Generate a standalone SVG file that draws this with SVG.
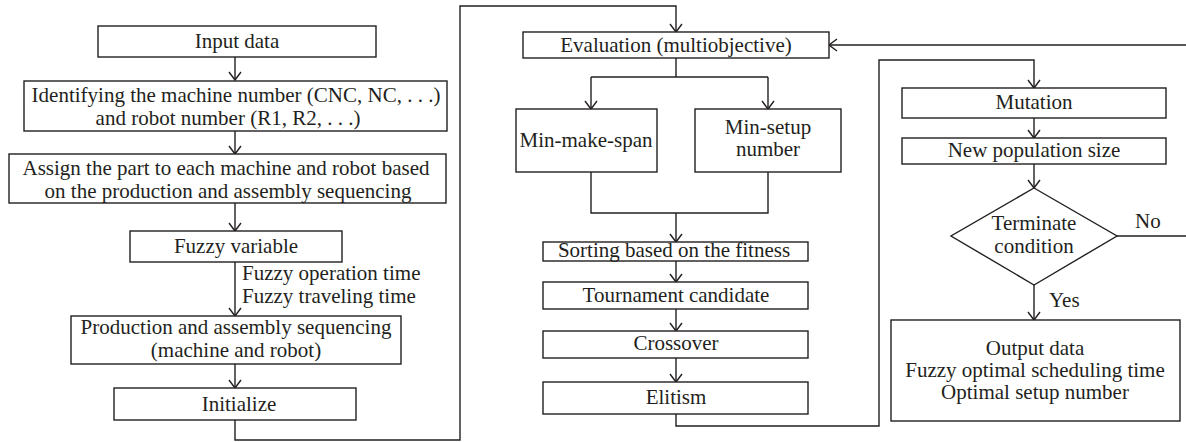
<svg xmlns="http://www.w3.org/2000/svg" width="1186" height="442" viewBox="0 0 1186 442" font-family="'Liberation Serif', 'DejaVu Serif', serif">
<style>
.box{fill:#fff;stroke:#231f20;stroke-width:1.4}
.ln{fill:none;stroke:#231f20;stroke-width:1.4}
text{font-family:'Liberation Serif','DejaVu Serif',serif;font-size:21px;fill:#231f20;text-anchor:middle}
.l{text-anchor:start}
</style>
<defs>
<marker id="ah" viewBox="-10 -7 12 14" markerWidth="12" markerHeight="14" refX="0" refY="0" orient="auto" markerUnits="userSpaceOnUse">
<path d="M-8,-6 L0,0 L-8,6" fill="none" stroke="#231f20" stroke-width="1.4"/>
</marker>
</defs>
<rect width="1186" height="442" fill="#fff"/>
<g id="connectors">
<path class="ln" d="M235,57 V80" marker-end="url(#ah)"/>
<path class="ln" d="M235,131 V154" marker-end="url(#ah)"/>
<path class="ln" d="M235,203 V231" marker-end="url(#ah)"/>
<path class="ln" d="M235,262 V316" marker-end="url(#ah)"/>
<path class="ln" d="M235,364 V388" marker-end="url(#ah)"/>
<path class="ln" d="M235,420 V440 H460 V6 H676 V32" marker-end="url(#ah)"/>
<path class="ln" d="M676,58 V77 M591,77 H768"/>
<path class="ln" d="M591,77 V109" marker-end="url(#ah)"/>
<path class="ln" d="M768,77 V109" marker-end="url(#ah)"/>
<path class="ln" d="M591,172 V213 H768 V172"/>
<path class="ln" d="M676,213 V242" marker-end="url(#ah)"/>
<path class="ln" d="M676,261 V282" marker-end="url(#ah)"/>
<path class="ln" d="M676,309 V331" marker-end="url(#ah)"/>
<path class="ln" d="M676,358 V382" marker-end="url(#ah)"/>
<path class="ln" d="M676,414 V426 H879 V60 H1034 V88" marker-end="url(#ah)"/>
<path class="ln" d="M1034,118 V138" marker-end="url(#ah)"/>
<path class="ln" d="M1034,164 V188" marker-end="url(#ah)"/>
<path class="ln" d="M1034,285 V320" marker-end="url(#ah)"/>
<path class="ln" d="M1117,236 H1192 V45 H829" marker-end="url(#ah)"/>
<text class="l" x="242" y="280" font-size="20">Fuzzy operation time</text>
<text class="l" x="242" y="303" font-size="20">Fuzzy traveling time</text>
<text class="l" x="1049" y="307">Yes</text>
<text class="l" x="1135" y="228">No</text>
</g>
<g id="input">
<rect class="box" x="98" y="26" width="278" height="31"/>
<text x="237" y="48">Input data</text>
</g>
<g id="identify">
<rect class="box" x="24" y="81" width="423" height="50"/>
<text x="236" y="102">Identifying the machine number (CNC, NC, . . .)</text>
<text x="228" y="125">and robot number (R1, R2, . . .)</text>
</g>
<g id="assign">
<rect class="box" x="9" y="154" width="437" height="49"/>
<text x="226" y="175">Assign the part to each machine and robot based</text>
<text x="228" y="198">on the production and assembly sequencing</text>
</g>
<g id="fuzzyvar">
<rect class="box" x="130" y="231" width="212" height="31"/>
<text x="236" y="253">Fuzzy variable</text>
</g>
<g id="production">
<rect class="box" x="71" y="316" width="330" height="48"/>
<text x="236" y="334">Production and assembly sequencing</text>
<text x="236" y="357">(machine and robot)</text>
</g>
<g id="initialize">
<rect class="box" x="114" y="388" width="242" height="32"/>
<text x="239" y="411">Initialize</text>
</g>
<g id="evaluation">
<rect class="box" x="523" y="32" width="306" height="26"/>
<text x="676" y="52">Evaluation (multiobjective)</text>
</g>
<g id="minmakespan">
<rect class="box" x="516" y="109" width="141" height="63"/>
<text x="586" y="147">Min-make-span</text>
</g>
<g id="minsetup">
<rect class="box" x="695" y="109" width="146" height="63"/>
<text x="768" y="134">Min-setup</text>
<text x="768" y="156">number</text>
</g>
<g id="sorting">
<rect class="box" x="543" y="242" width="265" height="19"/>
<text x="674" y="257">Sorting based on the fitness</text>
</g>
<g id="tournament">
<rect class="box" x="543" y="282" width="265" height="27"/>
<text x="676" y="302">Tournament candidate</text>
</g>
<g id="crossover">
<rect class="box" x="543" y="331" width="265" height="27"/>
<text x="676" y="350">Crossover</text>
</g>
<g id="elitism">
<rect class="box" x="543" y="382" width="265" height="32"/>
<text x="676" y="404">Elitism</text>
</g>
<g id="mutation">
<rect class="box" x="902" y="88" width="264" height="30"/>
<text x="1034" y="109">Mutation</text>
</g>
<g id="newpop">
<rect class="box" x="902" y="138" width="264" height="26"/>
<text x="1034" y="157">New population size</text>
</g>
<g id="terminate">
<polygon class="box" points="1034,188 1117,236 1034,285 951,236"/>
<text x="1034" y="230">Terminate</text>
<text x="1034" y="253">condition</text>
</g>
<g id="output">
<rect class="box" x="891" y="320" width="289" height="101"/>
<text x="1035" y="355">Output data</text>
<text x="1035" y="377">Fuzzy optimal scheduling time</text>
<text x="1035" y="399">Optimal setup number</text>
</g>
</svg>
